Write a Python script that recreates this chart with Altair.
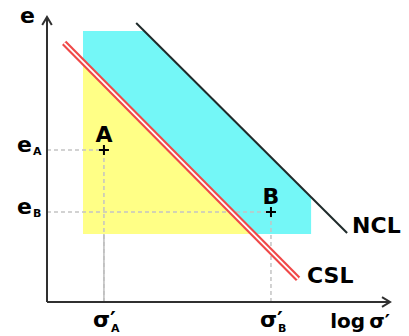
import altair as alt
import pandas as pd

# ---- data (log sigma' on x, void ratio e on y; arbitrary units, axis origin = 0) ----
axis_x_end = 10.0
axis_e_end = 10.0

# cyan region (possible states between CSL and NCL)
cyan_x = [1.05, 2.83, 7.70]
cyan_top = [9.51, 9.51, 3.68]
region_bottom = 2.39

# yellow region (below CSL)
yellow_x = [1.05, 6.02]
yellow_top = [8.41, 2.39]

# critical state line and normal compression line
csl_x = [0.50, 7.32]
csl_e = [9.09, 0.81]
ncl_x = [2.60, 8.75]
ncl_e = [9.79, 2.42]

# states A and B
point_names = ["A", "B"]
point_x = [1.66, 6.53]
point_e = [5.33, 3.16]

XDOM = [-1.137, 10.321]
YDOM = [-1.193, 10.316]
FONT = "DejaVu Sans"

xs = alt.Scale(domain=XDOM, nice=False, zero=False)
ys = alt.Scale(domain=YDOM, nice=False, zero=False)


def X(f="x"):
    return alt.X(f"{f}:Q", scale=xs, axis=None)


def Y(f="y"):
    return alt.Y(f"{f}:Q", scale=ys, axis=None)


cyan_df = pd.DataFrame({"x": cyan_x, "y": cyan_top, "y2": [region_bottom] * len(cyan_x)})
yellow_df = pd.DataFrame({"x": yellow_x, "y": yellow_top, "y2": [region_bottom] * len(yellow_x)})
pts = pd.DataFrame({"name": point_names, "x": point_x, "y": point_e, "x0": [0.0, 0.0], "y0": [0.0, 0.0]})
csl_df = pd.DataFrame({"x": [csl_x[0]], "x2": [csl_x[1]], "y": [csl_e[0]], "y2": [csl_e[1]]})
ncl_df = pd.DataFrame({"x": [ncl_x[0]], "x2": [ncl_x[1]], "y": [ncl_e[0]], "y2": [ncl_e[1]]})
axes_df = pd.DataFrame({"x": [0.0, 0.0], "x2": [axis_x_end, 0.0], "y": [0.0, 0.0], "y2": [0.0, axis_e_end]})
xarrow = pd.DataFrame({"x": [axis_x_end], "y": [0.0]})
yarrow = pd.DataFrame({"x": [0.0], "y": [axis_e_end]})
a_only = pts[pts.name == "A"].assign(yb=region_bottom)

cyan = alt.Chart(cyan_df).mark_area(color="#74f7f7", opacity=1).encode(x=X(), y=Y(), y2="y2:Q")
yellow = alt.Chart(yellow_df).mark_area(color="#ffff86", opacity=1).encode(x=X(), y=Y(), y2="y2:Q")

hguides = alt.Chart(pts).mark_rule(color="#c4c4c4", strokeWidth=1.5, strokeDash=[4, 3]).encode(
    x=X("x0"), x2="x:Q", y=Y()
)
vguides = alt.Chart(pts).mark_rule(color="#c4c4c4", strokeWidth=1.5, strokeDash=[4, 3]).encode(
    x=X(), y=Y("y0"), y2="y:Q"
)
vsolid = alt.Chart(a_only).mark_rule(color="#bdbdbd", strokeWidth=1.5).encode(
    x=X(), y=Y("y0"), y2="yb:Q"
)

csl_red = alt.Chart(csl_df).mark_rule(color="#f04848", strokeWidth=6).encode(
    x=X(), x2="x2:Q", y=Y(), y2="y2:Q"
)
csl_white = alt.Chart(csl_df).mark_rule(color="#ffffff", strokeWidth=1.8).encode(
    x=X(), x2="x2:Q", y=Y(), y2="y2:Q"
)
ncl = alt.Chart(ncl_df).mark_rule(color="#1f2b2b", strokeWidth=2).encode(
    x=X(), x2="x2:Q", y=Y(), y2="y2:Q"
)
axes = alt.Chart(axes_df).mark_rule(color="#303030", strokeWidth=2).encode(
    x=X(), x2="x2:Q", y=Y(), y2="y2:Q"
)
xhead = alt.Chart(xarrow).mark_point(
    shape="M-1,-0.6L0,0L-1,0.6", size=256, filled=False, color="#303030", strokeWidth=2, opacity=1
).encode(x=X(), y=Y())
yhead = alt.Chart(yarrow).mark_point(
    shape="M-0.6,1L0,0L0.6,1", size=256, filled=False, color="#303030", strokeWidth=2, opacity=1
).encode(x=X(), y=Y())
plus = alt.Chart(pts).mark_point(
    shape="M-1,0L1,0M0,-1L0,1", size=100, filled=False, color="#000000", strokeWidth=2, opacity=1
).encode(x=X(), y=Y())


def txt(df, text, dx, dy, size=22, align="left", xf="x", yf="y"):
    return alt.Chart(df).mark_text(
        font=FONT, fontWeight="bold", fontSize=size, align=align, baseline="alphabetic",
        dx=dx, dy=dy, color="#000000"
    ).encode(x=X(xf), y=Y(yf), text=text)


lab_AB = txt(pts, "name:N", 0, -8, align="center")
e_main = txt(pts.assign(t="e"), "t:N", -30, 2, xf="x0")
e_sub = txt(pts, "name:N", -14, 5, size=11, xf="x0")
s_main = txt(pts.assign(t="σ′"), "t:N", -11, 25, yf="y0")
s_sub = txt(pts, "name:N", 7, 30, size=11, yf="y0")
e_top = txt(yarrow.assign(t="e"), "t:N", -27, 6)
xlabel = txt(xarrow.assign(t="log\u2009σ′"), "t:N", 0, 26, size=20, align="right")
ncl_lab = txt(pd.DataFrame({"x": [ncl_x[1]], "y": [ncl_e[1]], "t": ["NCL"]}), "t:N", 5, 0)
csl_lab = txt(pd.DataFrame({"x": [csl_x[1]], "y": [csl_e[1]], "t": ["CSL"]}), "t:N", 9, 4)

chart = alt.layer(
    cyan, yellow, hguides, vguides, vsolid, csl_red, csl_white, ncl, axes, xhead, yhead, plus,
    lab_AB, e_main, e_sub, s_main, s_sub, e_top, xlabel, ncl_lab, csl_lab
).properties(
    width=393, height=328, padding=0, autosize=alt.AutoSizeParams(type="none"), background="white"
).configure_view(stroke=None)

chart.save("out.html", embed_options={"renderer": "svg", "actions": False})
